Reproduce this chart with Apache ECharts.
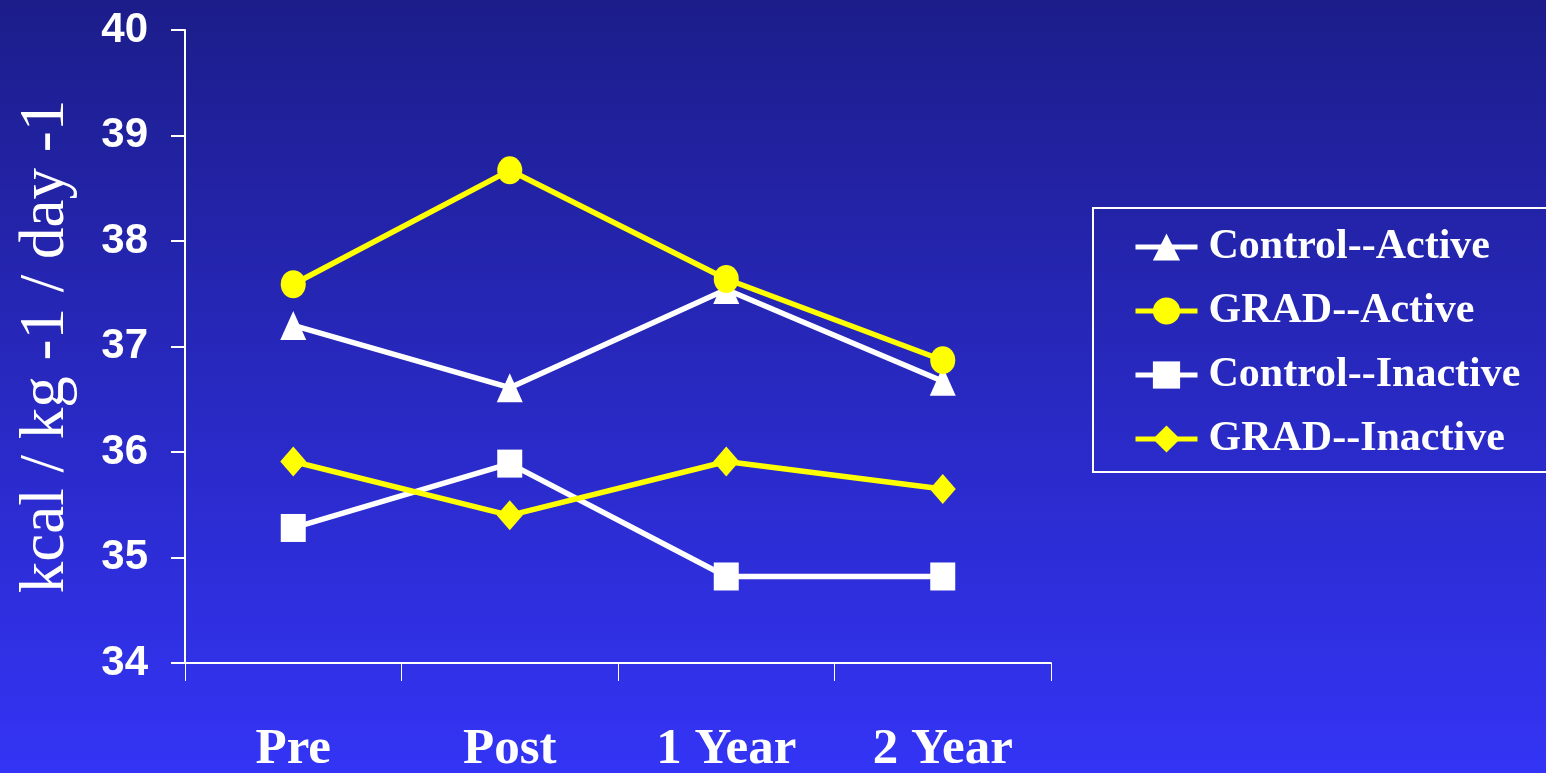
<!DOCTYPE html>
<html>
<head>
<meta charset="utf-8">
<title>kcal chart</title>
<script src="https://cdn.jsdelivr.net/npm/echarts@6/dist/echarts.min.js"></script>
<style>
	html, body { margin: 0; padding: 0; }
	#chart { width: 1546px; height: 773px; }
</style>
</head>
<body>
<div id="chart"></div>
<script>
	// data
	var categories = ['Pre', 'Post', '1 Year', '2 Year'];
	var yTicks = [34, 35, 36, 37, 38, 39, 40];
	var names = ['Control--Active', 'GRAD--Active', 'Control--Inactive', 'GRAD--Inactive'];
	var controlActive = [37.20, 36.61, 37.54, 36.67];
	var gradActive = [37.59, 38.67, 37.64, 36.87];
	var controlInactive = [35.28, 35.89, 34.82, 34.82];
	var gradInactive = [35.91, 35.40, 35.91, 35.65];

	var values = [controlActive, gradActive, controlInactive, gradInactive];
	var colors = ['#ffffff', '#ffff00', '#ffffff', '#ffff00'];
	var symbols = ['triangle', 'circle', 'rect', 'diamond'];
	var sizes = [[26, 29], [25, 28], [25, 28], [26, 30]];

	var serif = '"Liberation Serif", "Times New Roman", serif';
	var sans = '"Liberation Sans", Arial, sans-serif';

	var lineY = [];
	for (var i = 0; i < names.length; i++) {
		lineY.push({
			name: names[i],
			type: 'line',
			data: values[i],
			color: colors[i],
			symbol: symbols[i],
			symbolSize: sizes[i],
			showAllSymbol: true,
			lineStyle: { width: 5.5, color: colors[i] },
			itemStyle: { color: colors[i] },
			z: 2 + i
		});
	}

	var myChart = echarts.init(document.getElementById('chart'));
	var option = {
		backgroundColor: new echarts.graphic.LinearGradient(0, 0, 0, 1, [
			{ offset: 0, color: '#1c1d8a' },
			{ offset: 1, color: '#3434f6' }
		]),
		animation: false,
		legend: {
			data: names,
			orient: 'vertical',
			left: 1093,
			top: 208,
			padding: [18, 40, 12, 40],
			itemWidth: 62,
			itemHeight: 34,
			itemGap: 22,
			borderColor: '#ffffff',
			borderWidth: 2,
			lineStyle: { width: 5 },
			textStyle: {
				color: '#ffffff',
				fontFamily: serif,
				fontWeight: 'bold',
				fontSize: 42,
				lineHeight: 34,
				padding: [0, 0, 0, 6]
			}
		},
		grid: {
			left: 185,
			right: 495,
			top: 30,
			bottom: 110,
			containLabel: false,
			outerBoundsMode: 'none'
		},
		xAxis: {
			type: 'category',
			boundaryGap: true,
			data: categories,
			axisLine: { lineStyle: { color: '#ffffff', width: 2 } },
			axisTick: { show: true, length: 18, lineStyle: { color: '#ffffff', width: 1 } },
			axisLabel: {
				color: '#ffffff',
				fontFamily: serif,
				fontWeight: 'bold',
				fontSize: 51,
				margin: 61
			},
			splitLine: { show: false }
		},
		yAxis: {
			type: 'value',
			min: yTicks[0],
			max: yTicks[yTicks.length - 1],
			interval: 1,
			name: 'kcal / kg -1 / day -1',
			nameLocation: 'middle',
			nameGap: 107,
			nameTextStyle: {
				color: '#ffffff',
				fontFamily: serif,
				fontSize: 63
			},
			axisLine: { show: true, lineStyle: { color: '#ffffff', width: 2 } },
			axisTick: { show: true, length: 14, lineStyle: { color: '#ffffff', width: 2 } },
			axisLabel: {
				color: '#ffffff',
				fontFamily: sans,
				fontWeight: 'bold',
				fontSize: 42,
				margin: 37
			},
			splitLine: { show: false }
		},
		series: lineY
	};
	myChart.setOption(option);

	window.onresize = function() {
		myChart.resize();
	};
</script>
</body>
</html>
